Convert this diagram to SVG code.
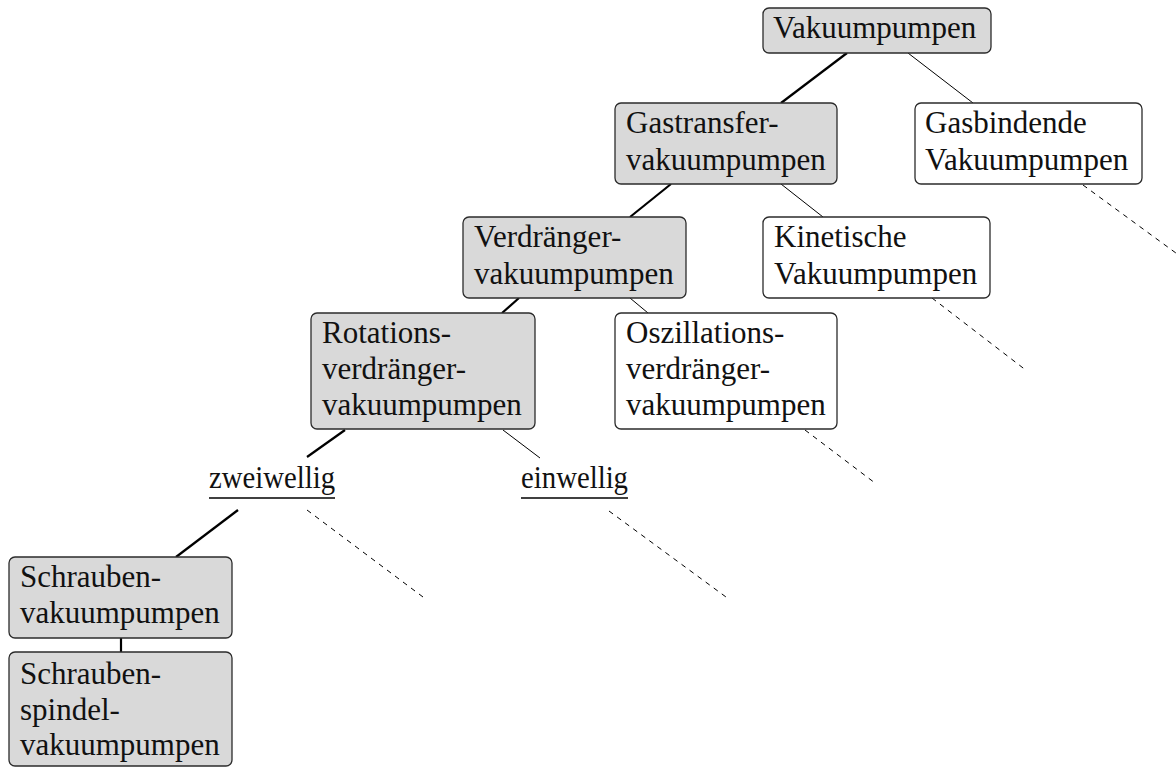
<svg xmlns="http://www.w3.org/2000/svg" width="1176" height="767" viewBox="0 0 1176 767">
<style>
.box{stroke:#2b2b2b;stroke-width:1.3}
.g{fill:#d9d9d9}
.w{fill:#ffffff}
text{font-family:"Liberation Serif","Times New Roman",serif;font-size:31px;fill:#111}
.thick{stroke:#000;stroke-width:2.2;fill:none}
.thin{stroke:#000;stroke-width:1;fill:none}
.dash{stroke:#000;stroke-width:1;fill:none;stroke-dasharray:5 5}
.ul{stroke:#000;stroke-width:1.6}
</style>
<rect width="1176" height="767" fill="#fff"/>
<g id="connectors">
<line class="thick" x1="847" y1="53" x2="781" y2="103"/>
<line class="thin" x1="908" y1="53" x2="973" y2="103"/>
<line class="thick" x1="671" y1="184" x2="630" y2="217"/>
<line class="thin" x1="781" y1="184" x2="823" y2="217"/>
<line class="thick" x1="519" y1="298" x2="502" y2="313"/>
<line class="thin" x1="630" y1="298" x2="648" y2="313"/>
<line class="thick" x1="345" y1="430" x2="307" y2="457"/>
<line class="thin" x1="503" y1="430" x2="540" y2="458"/>
<line class="thick" x1="238" y1="510" x2="176" y2="557"/>
<line class="thick" x1="121" y1="638" x2="121" y2="652"/>
<line class="dash" x1="307" y1="510" x2="423" y2="597"/>
<line class="dash" x1="609" y1="511" x2="726" y2="597"/>
<line class="dash" x1="805" y1="430" x2="875" y2="483"/>
<line class="dash" x1="932" y1="298" x2="1027" y2="371"/>
<line class="dash" x1="1083" y1="185" x2="1180" y2="256"/>
</g>
<g id="n-vakuumpumpen">
<rect class="box g" x="763" y="8" width="228" height="45" rx="6"/>
<text x="773" y="38">Vakuumpumpen</text>
</g>
<g id="n-gastransfer">
<rect class="box g" x="615" y="103" width="222" height="81" rx="6"/>
<text x="626" y="133">Gastransfer-</text>
<text x="626" y="170">vakuumpumpen</text>
</g>
<g id="n-gasbindende">
<rect class="box w" x="915" y="103" width="227" height="81" rx="6"/>
<text x="925" y="133">Gasbindende</text>
<text x="925" y="170">Vakuumpumpen</text>
</g>
<g id="n-verdraenger">
<rect class="box g" x="463" y="217" width="223" height="81" rx="6"/>
<text x="474" y="247">Verdränger-</text>
<text x="474" y="284">vakuumpumpen</text>
</g>
<g id="n-kinetische">
<rect class="box w" x="763" y="217" width="227" height="81" rx="6"/>
<text x="774" y="247">Kinetische</text>
<text x="774" y="284">Vakuumpumpen</text>
</g>
<g id="n-rotations">
<rect class="box g" x="311" y="313" width="224" height="116" rx="6"/>
<text x="322" y="343">Rotations-</text>
<text x="322" y="379">verdränger-</text>
<text x="322" y="415">vakuumpumpen</text>
</g>
<g id="n-oszillations">
<rect class="box w" x="615" y="313" width="222" height="116" rx="6"/>
<text x="626" y="343">Oszillations-</text>
<text x="626" y="379">verdränger-</text>
<text x="626" y="415">vakuumpumpen</text>
</g>
<g id="n-zweiwellig">
<text x="209" y="488" textLength="126" lengthAdjust="spacingAndGlyphs">zweiwellig</text>
<line class="ul" x1="209" y1="498" x2="335" y2="498"/>
</g>
<g id="n-einwellig">
<text x="521" y="488" textLength="107" lengthAdjust="spacingAndGlyphs">einwellig</text>
<line class="ul" x1="521" y1="498" x2="628" y2="498"/>
</g>
<g id="n-schrauben">
<rect class="box g" x="9" y="557" width="223" height="81" rx="6"/>
<text x="20" y="587">Schrauben-</text>
<text x="20" y="623">vakuumpumpen</text>
</g>
<g id="n-spindel">
<rect class="box g" x="9" y="652" width="223" height="114" rx="6"/>
<text x="20" y="684">Schrauben-</text>
<text x="20" y="720">spindel-</text>
<text x="20" y="755">vakuumpumpen</text>
</g>
</svg>
